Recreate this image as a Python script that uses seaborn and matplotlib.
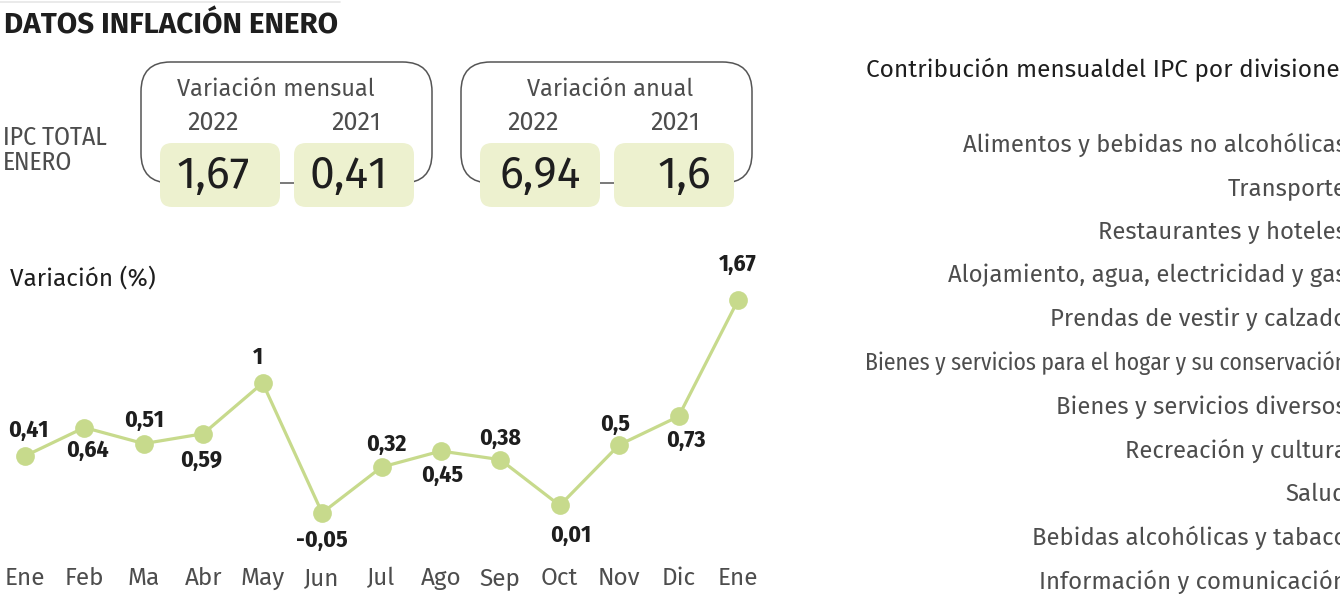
import matplotlib
matplotlib.use("Agg")
import matplotlib.pyplot as plt
from matplotlib.patches import FancyBboxPatch
import seaborn as sns
import pandas as pd
import numpy as np

# ---------------- data ----------------
months = ["Ene", "Feb", "Ma", "Abr", "May", "Jun", "Jul", "Ago", "Sep", "Oct", "Nov", "Dic", "Ene"]
variacion = [0.41, 0.64, 0.51, 0.59, 1.00, -0.05, 0.32, 0.45, 0.38, 0.01, 0.50, 0.73, 1.67]
value_labels = ["0,41", "0,64", "0,51", "0,59", "1", "-0,05", "0,32", "0,45", "0,38", "0,01", "0,5", "0,73", "1,67"]

mensual_years = ["2022", "2021"]
mensual_values = ["1,67", "0,41"]
anual_years = ["2022", "2021"]
anual_values = ["6,94", "1,6"]

divisiones = [
    "Alimentos y bebidas no alcohólicas",
    "Transporte",
    "Restaurantes y hoteles",
    "Alojamiento, agua, electricidad y gas",
    "Prendas de vestir y calzado",
    "Bienes y servicios para el hogar y su conservación",
    "Bienes y servicios diversos",
    "Recreación y cultura",
    "Salud",
    "Bebidas alcohólicas y tabaco",
    "Información y comunicación",
]

# ---------------- style ----------------
sns.set_theme(style="white")
MAIN = ["Fira Sans", "Liberation Sans", "DejaVu Sans"]
COND = ["Fira Sans Condensed", "Liberation Sans", "DejaVu Sans"]
plt.rcParams["font.family"] = MAIN

W, H = 1340, 594
fig = plt.figure(figsize=(W / 100, H / 100), dpi=100)
fig.patch.set_facecolor("white")

GREEN = "#c7da8c"
PILL = "#edf1cf"
DARK = "#1e1e1e"
GREY = "#4d4d4d"

def fx(px):
    return px / W

def fy(py):
    return 1 - py / H

# ---------------- header ----------------
fig.add_artist(plt.Line2D([fx(0), fx(340)], [fy(2), fy(2)], color="#e6e6e6", lw=1.2))
fig.text(fx(4), fy(26), "DATOS INFLACIÓN ENERO", fontsize=21.3, fontweight="bold",
         color=DARK, ha="left", va="center")
fig.text(fx(3), fy(150), "IPC TOTAL\nENERO", fontsize=18.5, color=GREY,
         family=COND, ha="left", va="center", linespacing=1.0)

# boxes
def draw_box(x0, x1, title, title_x, years, values, year_x, val_x):
    box = FancyBboxPatch((fx(x0), fy(183)), fx(x1 - x0), (183 - 62) / H,
                         boxstyle="round,pad=0,rounding_size=0.022",
                         transform=fig.transFigure, fill=False,
                         edgecolor="#555555", lw=1.1, mutation_aspect=W / H)
    fig.add_artist(box)
    pill_x = [x0 + 19, x0 + 153]
    for i in range(2):
        p = FancyBboxPatch((fx(pill_x[i]), fy(207)), fx(120), 64 / H,
                           boxstyle="round,pad=0,rounding_size=0.009",
                           transform=fig.transFigure, facecolor=PILL,
                           edgecolor="none", mutation_aspect=W / H)
        fig.add_artist(p)
        fig.text(fx(year_x[i]), fy(123), years[i], fontsize=18, color=GREY,
                 ha="center", va="center")
        fig.text(fx(val_x[i]), fy(176), values[i], fontsize=32, color=DARK,
                 ha="center", va="center")
    fig.text(fx(title_x), fy(89), title, fontsize=17, color=GREY,
             ha="center", va="center")

draw_box(141, 432, "Variación mensual", 276, mensual_years, mensual_values, [213, 356], [213, 349])
draw_box(461, 752, "Variación anual", 610, anual_years, anual_values, [533, 675], [540, 684])

# ---------------- line chart ----------------
ax_l, ax_r, ax_t, ax_b = 0, 760, 250, 560
ax = fig.add_axes([fx(ax_l), fy(ax_b), fx(ax_r - ax_l), (ax_b - ax_t) / H])
ax.set_facecolor("none")
df = pd.DataFrame({"idx": np.arange(len(months)), "v": variacion})
sns.lineplot(data=df, x="idx", y="v", ax=ax, color=GREEN, linewidth=2.3,
             marker="o", markersize=13.5, markeredgewidth=0, markerfacecolor=GREEN)

step = 59.42
ax.set_xlim(-25 / step, (ax_r - 25) / step)
ppu = 123.7
zero_px = 506.7
ax.set_ylim((zero_px - ax_b) / ppu, (zero_px - ax_t) / ppu)

ax.set_xticks(np.arange(len(months)))
ax.set_xticklabels(months, fontsize=17.5, color=GREY)
ax.tick_params(axis="x", length=0, pad=5)
ax.set_yticks([])
ax.set_xlabel("")
ax.set_ylabel("")
for s in ax.spines.values():
    s.set_visible(False)

# label offsets in pixels (dx, dy up)
offsets = [(3, 26), (3, -23), (0, 23), (-2, -27), (-5, 26), (0, -27), (5, 23),
           (1, -24), (0, 21), (11, -30), (-4, 21), (7, -24), (0, 36)]
for i, (lab, (dx, dy)) in enumerate(zip(value_labels, offsets)):
    ax.annotate(lab, (i, variacion[i]), xytext=(dx * 0.72, dy * 0.72),
                textcoords="offset points", ha="center", va="center",
                fontsize=17, fontweight="bold", color=DARK, family=COND)

fig.text(fx(10), fy(278), "Variación (%)", fontsize=17.5, color=DARK,
         ha="left", va="center")

# ---------------- right panel (divisions) ----------------
fig.text(fx(866), fy(70), "Contribución mensualdel IPC por divisiones", fontsize=17.6,
         color=DARK, ha="left", va="center")

sp = 43.7
top_c, bot_c = 142, 579
ax2 = fig.add_axes([fx(1347), fy(bot_c + sp / 2), 0.3, (bot_c - top_c + sp) / H])
ax2.set_facecolor("none")
ax2.set_ylim(len(divisiones) - 0.5, -0.5)
ax2.set_xlim(0, 1)
ax2.set_yticks(np.arange(len(divisiones)))
ax2.set_yticklabels(divisiones, fontsize=17.2, color=GREY)
ax2.tick_params(axis="y", length=0, pad=0)
ax2.set_xticks([])
for s in ax2.spines.values():
    s.set_visible(False)
for t in ax2.get_yticklabels():
    if t.get_text().startswith("Bienes y servicios para"):
        t.set_family(COND)
        t.set_fontsize(17)

fig.savefig("out.png", dpi=100, facecolor="white")
